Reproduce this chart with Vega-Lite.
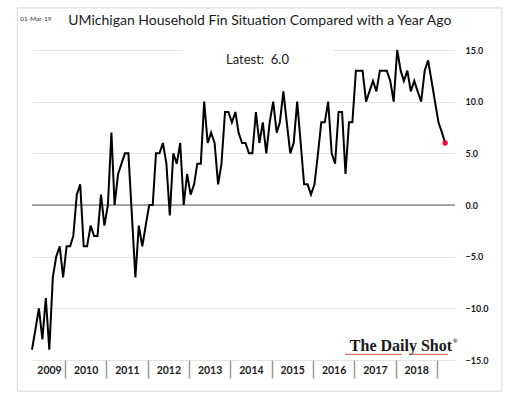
{
  "$schema": "https://vega.github.io/schema/vega-lite/v6.json",
  "width": 423,
  "height": 310,
  "autosize": {"type": "none"},
  "padding": {"left": 32, "top": 50, "right": 61, "bottom": 41},
  "background": "white",
  "config": {"view": {"stroke": null}, "font": "Lato"},
  "data": {
    "values": [
      {"date": "2009-03-15", "value": -14}, {"date": "2009-04-15", "value": -12}, {"date": "2009-05-15", "value": -10},
      {"date": "2009-06-15", "value": -13}, {"date": "2009-07-15", "value": -9}, {"date": "2009-08-15", "value": -14},
      {"date": "2009-09-15", "value": -7}, {"date": "2009-10-15", "value": -5}, {"date": "2009-11-15", "value": -4},
      {"date": "2009-12-15", "value": -7},
      {"date": "2010-01-15", "value": -4}, {"date": "2010-02-15", "value": -4}, {"date": "2010-03-15", "value": -3},
      {"date": "2010-04-15", "value": 1}, {"date": "2010-05-15", "value": 2}, {"date": "2010-06-15", "value": -4},
      {"date": "2010-07-15", "value": -4}, {"date": "2010-08-15", "value": -2}, {"date": "2010-09-15", "value": -3},
      {"date": "2010-10-15", "value": -3}, {"date": "2010-11-15", "value": 1}, {"date": "2010-12-15", "value": -2},
      {"date": "2011-01-15", "value": 0}, {"date": "2011-02-15", "value": 7}, {"date": "2011-03-15", "value": 0},
      {"date": "2011-04-15", "value": 3}, {"date": "2011-05-15", "value": 4}, {"date": "2011-06-15", "value": 5},
      {"date": "2011-07-15", "value": 5}, {"date": "2011-08-15", "value": -1}, {"date": "2011-09-15", "value": -7},
      {"date": "2011-10-15", "value": -2}, {"date": "2011-11-15", "value": -4}, {"date": "2011-12-15", "value": -2},
      {"date": "2012-01-15", "value": 0}, {"date": "2012-02-15", "value": 0}, {"date": "2012-03-15", "value": 5},
      {"date": "2012-04-15", "value": 5}, {"date": "2012-05-15", "value": 6}, {"date": "2012-06-15", "value": 4},
      {"date": "2012-07-15", "value": -1}, {"date": "2012-08-15", "value": 5}, {"date": "2012-09-15", "value": 4},
      {"date": "2012-10-15", "value": 6}, {"date": "2012-11-15", "value": 0}, {"date": "2012-12-15", "value": 3},
      {"date": "2013-01-15", "value": 1}, {"date": "2013-02-15", "value": 2}, {"date": "2013-03-15", "value": 4},
      {"date": "2013-04-15", "value": 4}, {"date": "2013-05-15", "value": 10}, {"date": "2013-06-15", "value": 6},
      {"date": "2013-07-15", "value": 7}, {"date": "2013-08-15", "value": 6}, {"date": "2013-09-15", "value": 2},
      {"date": "2013-10-15", "value": 4}, {"date": "2013-11-15", "value": 9}, {"date": "2013-12-15", "value": 9},
      {"date": "2014-01-15", "value": 8}, {"date": "2014-02-15", "value": 9}, {"date": "2014-03-15", "value": 7},
      {"date": "2014-04-15", "value": 6}, {"date": "2014-05-15", "value": 6}, {"date": "2014-06-15", "value": 5},
      {"date": "2014-07-15", "value": 5}, {"date": "2014-08-15", "value": 9}, {"date": "2014-09-15", "value": 6},
      {"date": "2014-10-15", "value": 8}, {"date": "2014-11-15", "value": 5}, {"date": "2014-12-15", "value": 8},
      {"date": "2015-01-15", "value": 10}, {"date": "2015-02-15", "value": 7}, {"date": "2015-03-15", "value": 8},
      {"date": "2015-04-15", "value": 11}, {"date": "2015-05-15", "value": 8}, {"date": "2015-06-15", "value": 5},
      {"date": "2015-07-15", "value": 6}, {"date": "2015-08-15", "value": 10}, {"date": "2015-09-15", "value": 6},
      {"date": "2015-10-15", "value": 2}, {"date": "2015-11-15", "value": 2}, {"date": "2015-12-15", "value": 1},
      {"date": "2016-01-15", "value": 2}, {"date": "2016-02-15", "value": 5}, {"date": "2016-03-15", "value": 8},
      {"date": "2016-04-15", "value": 8}, {"date": "2016-05-15", "value": 10}, {"date": "2016-06-15", "value": 5},
      {"date": "2016-07-15", "value": 4}, {"date": "2016-08-15", "value": 9}, {"date": "2016-09-15", "value": 9},
      {"date": "2016-10-15", "value": 3}, {"date": "2016-11-15", "value": 8}, {"date": "2016-12-15", "value": 8},
      {"date": "2017-01-15", "value": 13}, {"date": "2017-02-15", "value": 13}, {"date": "2017-03-15", "value": 13},
      {"date": "2017-04-15", "value": 10}, {"date": "2017-05-15", "value": 11}, {"date": "2017-06-15", "value": 12},
      {"date": "2017-07-15", "value": 11}, {"date": "2017-08-15", "value": 13}, {"date": "2017-09-15", "value": 13},
      {"date": "2017-10-15", "value": 13}, {"date": "2017-11-15", "value": 12}, {"date": "2017-12-15", "value": 10},
      {"date": "2018-01-15", "value": 15}, {"date": "2018-02-15", "value": 13}, {"date": "2018-03-15", "value": 12},
      {"date": "2018-04-15", "value": 13}, {"date": "2018-05-15", "value": 11}, {"date": "2018-06-15", "value": 12},
      {"date": "2018-07-15", "value": 11}, {"date": "2018-08-15", "value": 10}, {"date": "2018-09-15", "value": 13},
      {"date": "2018-10-15", "value": 14}, {"date": "2018-11-15", "value": 12}, {"date": "2018-12-15", "value": 10},
      {"date": "2019-01-15", "value": 8}, {"date": "2019-02-15", "value": 7}, {"date": "2019-03-15", "value": 6}
    ]
  },
  "layer": [
    {
      "data": {"values": [{}]},
      "mark": {"type": "rect", "fill": null, "stroke": "#d8d8d8", "strokeWidth": 1, "clip": false},
      "encoding": {
        "x": {"datum": {"year": 2008, "month": 11, "date": 5, "utc": true}, "type": "temporal"},
        "x2": {"datum": {"year": 2020, "month": 7, "date": 29, "utc": true}},
        "y": {"datum": 19.07, "type": "quantitative"},
        "y2": {"datum": -18.01}
      }
    },
    {
      "data": {"values": [{}]},
      "mark": {"type": "rect", "fill": "white", "stroke": null},
      "encoding": {
        "x": {"datum": {"year": 2012, "month": 11, "date": 10, "utc": true}, "type": "temporal"},
        "x2": {"datum": {"year": 2016, "month": 6, "date": 27, "utc": true}},
        "y": {"datum": 15.5, "type": "quantitative"},
        "y2": {"datum": 14.5}
      }
    },
    {
      "data": {"values": [{}]},
      "mark": {"type": "rule", "color": "#555555", "strokeWidth": 1},
      "encoding": {"y": {"datum": 0, "type": "quantitative"}}
    },
    {
      "mark": {"type": "line", "color": "black", "strokeWidth": 2, "strokeJoin": "miter"},
      "encoding": {
        "x": {
          "field": "date",
          "type": "temporal",
          "scale": {"domain": [{"year": 2009, "month": 3, "date": 15, "utc": true}, {"year": 2019, "month": 6, "date": 10, "utc": true}]},
          "axis": {
            "title": null,
            "domain": false,
            "grid": false,
            "values": [
              {"year": 2010, "month": 1, "date": 1, "utc": true}, {"year": 2011, "month": 1, "date": 1, "utc": true},
              {"year": 2012, "month": 1, "date": 1, "utc": true}, {"year": 2013, "month": 1, "date": 1, "utc": true},
              {"year": 2014, "month": 1, "date": 1, "utc": true}, {"year": 2015, "month": 1, "date": 1, "utc": true},
              {"year": 2016, "month": 1, "date": 1, "utc": true}, {"year": 2017, "month": 1, "date": 1, "utc": true},
              {"year": 2018, "month": 1, "date": 1, "utc": true}, {"year": 2019, "month": 1, "date": 1, "utc": true}
            ],
            "labelExpr": "'' + (utcyear(datum.value) - 1)",
            "labelAlign": "center",
            "labelBaseline": "top",
            "labelOffset": {"condition": {"test": "utcyear(datum.value) == 2010", "value": -16}, "value": -20.7},
            "labelPadding": -13,
            "labelFlush": false,
            "labelOverlap": false,
            "labelFont": "Lato",
            "labelFontSize": 10.5,
            "labelFontWeight": "bold",
            "labelColor": "#1a1a1a",
            "ticks": true,
            "tickSize": 18,
            "tickColor": "#9a9a9a",
            "tickWidth": 1.5
          }
        },
        "y": {
          "field": "value",
          "type": "quantitative",
          "scale": {"domain": [-15, 15], "nice": false, "zero": false},
          "axis": {
            "orient": "right",
            "title": null,
            "domain": false,
            "ticks": false,
            "values": [-15, -10, -5, 0, 5, 10, 15],
            "format": ".1f",
            "labelPadding": 10,
            "labelFont": "Lato",
            "labelFontSize": 9,
            "labelFontWeight": "bold",
            "labelColor": "#1a1a1a",
            "grid": true,
            "gridColor": "#e4e4e4",
            "gridWidth": 1
          }
        }
      }
    },
    {
      "transform": [{"filter": "utcyear(datum.date) == 2019 && utcmonth(datum.date) == 2"}],
      "mark": {"type": "point", "filled": true, "color": "#e8112d", "size": 28, "opacity": 1},
      "encoding": {
        "x": {"field": "date", "type": "temporal"},
        "y": {"field": "value", "type": "quantitative"}
      }
    },
    {
      "data": {"values": [{}]},
      "mark": {"type": "text", "text": "UMichigan Household Fin Situation Compared with a Year Ago", "font": "Lato", "fontSize": 14, "color": "#1a1a1a", "align": "left", "baseline": "alphabetic", "clip": false},
      "encoding": {
        "x": {"datum": {"year": 2010, "month": 1, "date": 30, "utc": true}, "type": "temporal"},
        "y": {"datum": 17.42, "type": "quantitative"}
      }
    },
    {
      "data": {"values": [{}]},
      "mark": {"type": "text", "text": "Latest:\u00a0 6.0", "font": "Lato", "fontSize": 13, "color": "#1a1a1a", "align": "center", "baseline": "middle"},
      "encoding": {
        "x": {"datum": {"year": 2014, "month": 8, "date": 29, "utc": true}, "type": "temporal"},
        "y": {"datum": 14.03, "type": "quantitative"}
      }
    },
    {
      "data": {"values": [{}]},
      "mark": {"type": "text", "text": "01-Mar-19", "font": "Lato", "fontSize": 6.5, "color": "#333333", "align": "center", "baseline": "middle", "clip": false},
      "encoding": {
        "x": {"datum": {"year": 2009, "month": 4, "date": 18, "utc": true}, "type": "temporal"},
        "y": {"datum": 18.0, "type": "quantitative"}
      }
    },
    {
      "data": {"values": [{}]},
      "mark": {"type": "text", "text": "The Daily Shot", "font": "Liberation Serif", "fontSize": 16, "fontWeight": "bold", "color": "#1a1a1a", "align": "right", "baseline": "alphabetic"},
      "encoding": {
        "x": {"datum": {"year": 2019, "month": 5, "date": 15, "utc": true}, "type": "temporal"},
        "y": {"datum": -14.13, "type": "quantitative"}
      }
    },
    {
      "data": {"values": [{}]},
      "mark": {"type": "text", "text": "®", "font": "Liberation Serif", "fontSize": 7, "fontWeight": "bold", "color": "#1a1a1a", "align": "left", "baseline": "alphabetic"},
      "encoding": {
        "x": {"datum": {"year": 2019, "month": 5, "date": 20, "utc": true}, "type": "temporal"},
        "y": {"datum": -13.4, "type": "quantitative"}
      }
    },
    {
      "data": {"values": [
        {"start": "2016-10-11", "end": "2018-02-26"},
        {"start": "2018-05-16", "end": "2019-04-08"}
      ]},
      "mark": {"type": "rule", "color": "#d9534f", "strokeWidth": 1},
      "encoding": {
        "x": {"field": "start", "type": "temporal"},
        "x2": {"field": "end"},
        "y": {"datum": -14.45, "type": "quantitative"}
      }
    }
  ]
}
